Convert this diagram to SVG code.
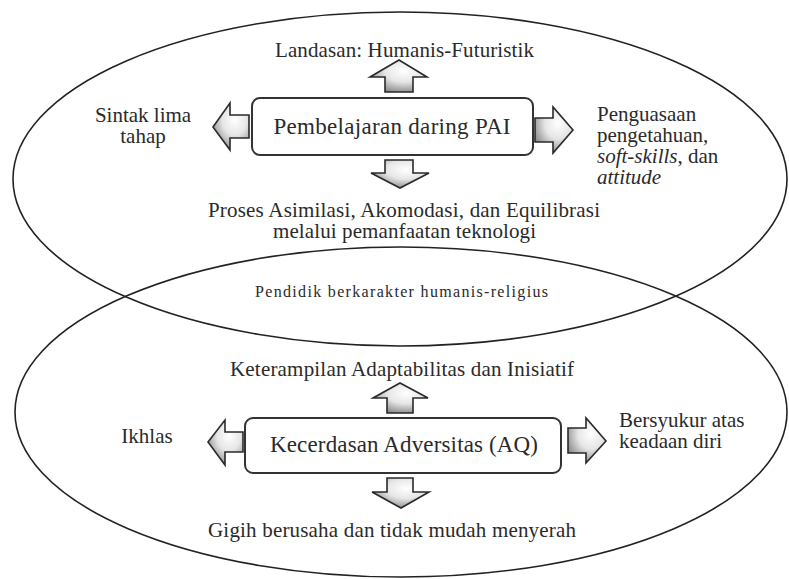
<svg xmlns="http://www.w3.org/2000/svg" width="789" height="579" viewBox="0 0 789 579">
<defs>
<radialGradient id="ag" cx="0.6" cy="0.35" r="0.75">
<stop offset="0" stop-color="#ffffff"/>
<stop offset="0.45" stop-color="#e6e6e6"/>
<stop offset="1" stop-color="#7a7a7a"/>
</radialGradient>
</defs>
<style>
.ell{fill:none;stroke:#222;stroke-width:1.6}
.box{fill:#fff;stroke:#333;stroke-width:2}
.arr{fill:url(#ag);stroke:#2a2a2a;stroke-width:1.6;stroke-linejoin:miter}
.t21{font-size:21px;fill:#2a2a2a}
.t23{font-size:23px;fill:#2a2a2a}
.t16{font-size:16px;fill:#2a2a2a}
.c{text-anchor:middle}
.f1{font-family:"Liberation Serif",serif}
</style>
<rect width="789" height="579" fill="#fff"/>
<g id="ellipse-top"><ellipse class="ell" cx="400" cy="179" rx="387" ry="167"/></g>
<g id="ellipse-bottom"><ellipse class="ell" cx="401" cy="412" rx="386" ry="165"/></g>
<g id="connectors">
<polygon class="arr" points="385,92 385,77 370,77 399,60 427,77 413,77 413,92"/>
<polygon class="arr" points="385,160 413,160 413,173 429,173 400,188 371,173 385,173"/>
<polygon class="arr" points="535,118 553,118 553,107 573,130 553,153 553,142 535,142"/>
<polygon class="arr" points="249,115 230,115 230,103 213,127 230,150 230,138 249,138"/>
<polygon class="arr" points="387,413 387,398 373,398 400,383 428,398 413,398 413,413"/>
<polygon class="arr" points="387,478 413,478 413,492 429,492 401,508 372,492 387,492"/>
<polygon class="arr" points="243,432 225,432 225,420 208,442 225,465 225,452 243,452"/>
<polygon class="arr" points="568,428 586,428 586,418 606,441 586,463 586,453 568,453"/>
</g>
<g id="node-pembelajaran">
<rect class="box" x="252" y="98" width="281" height="57" rx="8"/>
<text class="t23 c f1" font-family="Liberation Serif, serif" style="font-family:'Liberation Serif',serif" x="392" y="134" textLength="237">Pembelajaran daring PAI</text>
</g>
<g id="node-landasan"><text class="t21 c f1" font-family="Liberation Serif, serif" style="font-family:'Liberation Serif',serif" x="404.5" y="57" textLength="259">Landasan: Humanis-Futuristik</text></g>
<g id="node-sintak">
<text class="t21 c f1" font-family="Liberation Serif, serif" style="font-family:'Liberation Serif',serif" x="143" y="122">Sintak lima</text>
<text class="t21 c f1" font-family="Liberation Serif, serif" style="font-family:'Liberation Serif',serif" x="143" y="143">tahap</text>
</g>
<g id="node-proses">
<text class="t21 c f1" font-family="Liberation Serif, serif" style="font-family:'Liberation Serif',serif" x="404" y="217" textLength="392">Proses Asimilasi, Akomodasi, dan Equilibrasi</text>
<text class="t21 c f1" font-family="Liberation Serif, serif" style="font-family:'Liberation Serif',serif" x="404.5" y="238" textLength="263">melalui pemanfaatan teknologi</text>
</g>
<g id="node-penguasaan">
<text class="t21 f1" font-family="Liberation Serif, serif" style="font-family:'Liberation Serif',serif" x="597" y="121">Penguasaan</text>
<text class="t21 f1" font-family="Liberation Serif, serif" style="font-family:'Liberation Serif',serif" x="597" y="142">pengetahuan,</text>
<text class="t21 f1" font-family="Liberation Serif, serif" style="font-family:'Liberation Serif',serif" x="597" y="163"><tspan style="font-family:'Liberation Serif',serif;font-style:italic">soft-skills</tspan><tspan style="font-family:'Liberation Serif',serif">, dan</tspan></text>
<text class="t21 f1" font-family="Liberation Serif, serif" style="font-family:'Liberation Serif',serif;font-style:italic" x="597" y="184">attitude</text>
</g>
<g id="node-pendidik"><text class="t16 c f1" font-family="Liberation Serif, serif" style="font-family:'Liberation Serif',serif" x="401.5" y="297" textLength="293">Pendidik berkarakter humanis-religius</text></g>
<g id="node-keterampilan"><text class="t21 c f1" font-family="Liberation Serif, serif" style="font-family:'Liberation Serif',serif" x="402" y="376" textLength="344">Keterampilan Adaptabilitas dan Inisiatif</text></g>
<g id="node-kecerdasan">
<rect class="box" x="245" y="418" width="316" height="55" rx="8"/>
<text class="t23 c f1" font-family="Liberation Serif, serif" style="font-family:'Liberation Serif',serif" x="404" y="452" textLength="268">Kecerdasan Adversitas (AQ)</text>
</g>
<g id="node-ikhlas"><text class="t21 c f1" font-family="Liberation Serif, serif" style="font-family:'Liberation Serif',serif" x="147" y="443">Ikhlas</text></g>
<g id="node-bersyukur">
<text class="t21 f1" font-family="Liberation Serif, serif" style="font-family:'Liberation Serif',serif" x="619" y="427">Bersyukur atas</text>
<text class="t21 f1" font-family="Liberation Serif, serif" style="font-family:'Liberation Serif',serif" x="619" y="448">keadaan diri</text>
</g>
<g id="node-gigih"><text class="t21 c f1" font-family="Liberation Serif, serif" style="font-family:'Liberation Serif',serif" x="392" y="537" textLength="368">Gigih berusaha dan tidak mudah menyerah</text></g>
</svg>
